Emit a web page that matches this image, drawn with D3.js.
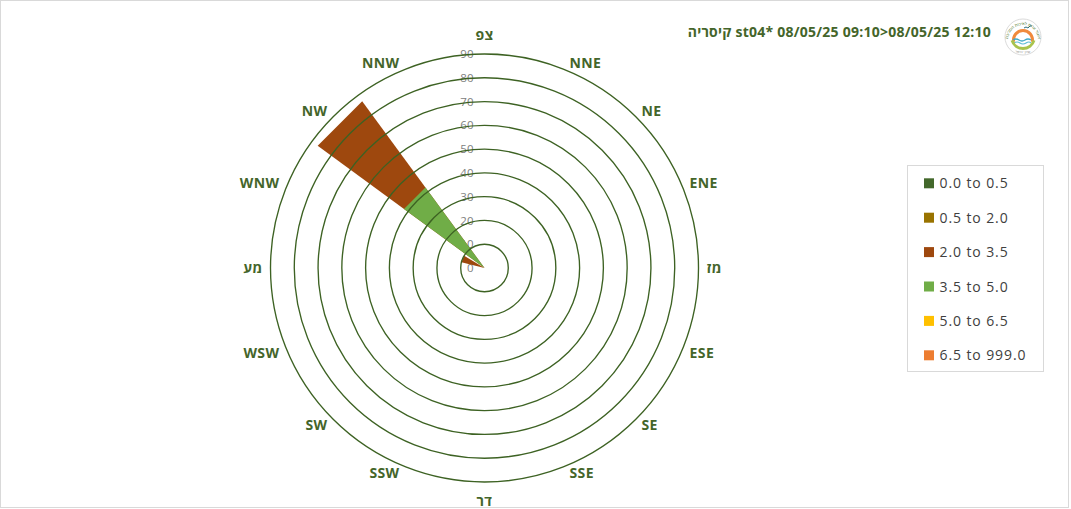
<!DOCTYPE html>
<html><head><meta charset="utf-8">
<script src="https://cdn.jsdelivr.net/npm/d3@7"></script>
<style>body{margin:0;background:#fff;} svg{display:block}</style>
</head><body><svg id="c" width="1071" height="509"></svg>
<script>
// ---- data ----
const directions = ["צפ","NNE","NE","ENE","מז","ESE","SE","SSE","דר","SSW","SW","WSW","מע","WNW","NW","NNW"];
const seriesNames = ["0.0 to 0.5","0.5 to 2.0","2.0 to 3.5","3.5 to 5.0","5.0 to 6.5","6.5 to 999.0"];
const s00_05  = [0,0,0,0,0,0,0,0,0,0,0,0,0,0,0,0];
const s05_20  = [0,0,0,0,0,0,0,0,0,0,0,0,0,0,0,0];
const s20_35  = [0,0,0,0,0,0,0,0,0,0,0,0,0,10,87,0];
const s35_50  = [0,0,0,0,0,0,0,0,0,0,0,0,0,0,42,0];
const s50_65  = [0,0,0,0,0,0,0,0,0,0,0,0,0,0,0,0];
const s65_999 = [0,0,0,0,0,0,0,0,0,0,0,0,0,0,0,0];
const radialTicks = [0,10,20,30,40,50,60,70,80,90];
const titleText = "קיסריה st04* 08/05/25 09:10>08/05/25 12:10";

const seriesValues = [s00_05, s05_20, s20_35, s35_50, s50_65, s65_999];
const seriesColors = ["#43682b","#997300","#9e480e","#70ad47","#ffc000","#ed7d31"];

// ---- layout ----
const svg = d3.select("#c");
const W = 1071, H = 509;
const cx = 484.5, cy = 268;
const textColor = "#44652a";
const ringColor = "#3d6223";
const font = "'Open Sans', 'Noto Sans', sans-serif";

const defs = svg.append("defs");
defs.append("clipPath").attr("id","clip")
  .append("rect").attr("x",1).attr("y",1).attr("width",1067).attr("height",506);

const root = svg.append("g").attr("clip-path","url(#clip)");
root.append("rect").attr("x",0).attr("y",0).attr("width",W).attr("height",H).attr("fill","#fff");

const r = d3.scaleLinear().domain([0, d3.max(radialTicks)]).range([0, 214]);
const step = 2*Math.PI/directions.length;
const dirAngle = d => directions.indexOf(d) * step; // radians, clockwise from north
const halfW = (17.5/2) * Math.PI/180;

const chart = root.append("g").attr("transform", `translate(${cx},${cy})`);

// tick labels (under rings)
chart.append("g").selectAll("text").data(radialTicks).join("text")
  .attr("x", -11).attr("y", d => -r(d))
  .attr("dy", "0.36em")
  .attr("text-anchor","end")
  .attr("font-family", font).attr("font-size", 11.5)
  .attr("fill", "#808080")
  .text(d => d);

// wedges
const line = d3.lineRadial().curve(d3.curveLinearClosed);
seriesValues.forEach((vals, si) => {
  chart.append("g").selectAll("path")
    .data(vals.map((v,i)=>({v, d: directions[i]})).filter(o => o.v > 0))
    .join("path")
    .attr("d", o => {
      const a = dirAngle(o.d);
      return line([[a, 0], [a - halfW, r(o.v)], [a + halfW, r(o.v)]]);
    })
    .attr("fill", seriesColors[si]);
});

// rings
chart.append("g").selectAll("circle").data(radialTicks.filter(t => t > 0)).join("circle")
  .attr("r", d => r(d))
  .attr("fill","none").attr("stroke", ringColor).attr("stroke-width", 1.35);

// direction labels
const labelR = 222;
chart.append("g").selectAll("text").data(directions).join("text")
  .attr("font-family", font).attr("font-size", 14).attr("font-weight", "bold")
  .attr("letter-spacing", "0.4px")
  .attr("fill", textColor)
  .attr("dy","0.36em")
  .each(function(d){
    const a = dirAngle(d);
    const s = Math.sin(a), c = Math.cos(a);
    const ax = s * labelR, ay = -c * labelR;
    const sel = d3.select(this);
    if (Math.abs(s) < 0.05) {
      sel.attr("text-anchor","middle").attr("x", ax).attr("y", ay - c * 11);
    } else {
      sel.attr("text-anchor", s > 0 ? "start" : "end").attr("x", ax).attr("y", ay);
    }
  })
  .text(d => d);

// title
root.append("text")
  .attr("x", 991).attr("y", 36.7)
  .attr("text-anchor","end")
  .attr("font-family", font).attr("font-size", 14).attr("font-weight","bold")
  .attr("letter-spacing", "0.25px")
  .attr("fill", textColor)
  .text(titleText);

// logo
const logo = root.append("g").attr("transform","translate(1023,37)");
logo.append("circle").attr("r",18).attr("fill","#fff").attr("stroke","#d0d0d0").attr("stroke-width",0.8);
logo.append("path").attr("d", d3.arc()({innerRadius:8, outerRadius:11, startAngle:-Math.PI/2-0.2, endAngle:Math.PI/2+0.2}))
  .attr("transform","translate(0,3)").attr("fill","#f08a3c");
logo.append("path").attr("d","M-10,3 q3,-2 6,0 t6,0 t6,0").attr("fill","none").attr("stroke","#3fa9c9").attr("stroke-width",1.3);
logo.append("path").attr("d","M-9,6 q3,-2 6,0 t6,0 t5,0").attr("fill","none").attr("stroke","#5cbcd6").attr("stroke-width",1.1);
logo.append("path").attr("d", d3.arc()({innerRadius:10, outerRadius:13, startAngle:Math.PI/2+0.3, endAngle:3*Math.PI/2-0.3}))
  .attr("transform","translate(0,0)").attr("fill","#a9c34d");
logo.append("path").attr("d","M1,-9 q2,-2 4,0 q2,-3 4,-2").attr("fill","none").attr("stroke","#2e6e7e").attr("stroke-width",1);
defs.append("path").attr("id","logoArc").attr("d","M-15,3 A15,15 0 0,1 15,3");
logo.append("text").attr("font-family","'Noto Sans', sans-serif").attr("font-size",4).attr("fill","#4f7a2c")
  .append("textPath").attr("href","#logoArc").attr("startOffset","50%").attr("text-anchor","middle")
  .text("איגוד ערים לאיכות הסביבה");
logo.append("text").attr("y",16).attr("text-anchor","middle").attr("font-family","'Noto Sans', sans-serif")
  .attr("font-size",3).attr("fill","#888").text("שרון · כרמל");

// legend
const lg = root.append("g");
lg.append("rect").attr("x",907.5).attr("y",165.5).attr("width",136).attr("height",206)
  .attr("fill","#fff").attr("stroke","#d9d9d9").attr("stroke-width",1);
const item = lg.selectAll("g.item").data(seriesNames).join("g").attr("class","item")
  .attr("transform",(d,i)=>`translate(924,${183.3 + i*34.4})`);
item.append("rect").attr("x",0).attr("y",-5).attr("width",10).attr("height",10)
  .attr("fill",(d,i)=>seriesColors[i]);
item.append("text").attr("x",15.5).attr("dy","0.36em")
  .attr("font-family",font).attr("font-size",14).attr("letter-spacing","0.9px")
  .attr("fill","#404040").text(d=>d);

// chart border
svg.append("rect").attr("x",0.5).attr("y",0.5).attr("width",1068).attr("height",507)
  .attr("fill","none").attr("stroke","#d9d9d9").attr("stroke-width",1);
</script></body></html>
